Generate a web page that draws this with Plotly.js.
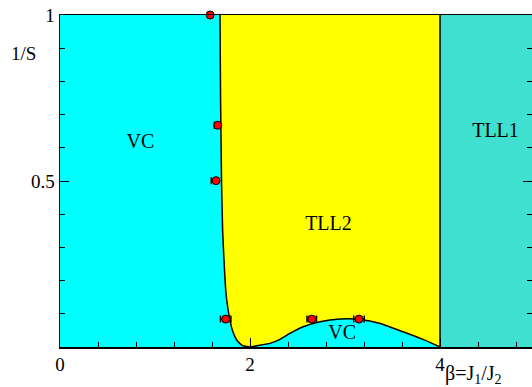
<!DOCTYPE html>
<html>
<head>
<meta charset="utf-8">
<script src="https://cdn.plot.ly/plotly-3.0.1.min.js"></script>
<style>
  html, body { margin: 0; padding: 0; background: #fff; }
  #chart { width: 532px; height: 387px; }
</style>
</head>
<body>
<div id="chart"></div>
<script>
// phase boundary, VC / TLL2 (steep left branch)
var leftBoundX = [1.684, 1.69, 1.70, 1.712, 1.726, 1.747, 1.765, 1.782, 1.814, 1.86, 1.912, 1.95, 1.98, 2.0];
var leftBoundY = [1.0, 0.75, 0.5, 0.35, 0.262, 0.162, 0.12, 0.091, 0.051, 0.021, 0.006, 0.002, 0.0005, 0.0];
// dome between beta = 2 and 4
var domeX = [2.0, 2.1, 2.21, 2.316, 2.42, 2.56, 2.737, 2.947, 3.158, 3.37, 3.61, 3.82, 4.0];
var domeY = [0.0, 0.005, 0.011, 0.023, 0.041, 0.061, 0.076, 0.084, 0.083, 0.071, 0.046, 0.023, 0.0];
// TLL2 / TLL1 border
var borderX = [4.0, 4.0];
var borderY = [0.0, 1.0];
// TLL1 region
var tll1X = [4.0, 5.0, 5.0, 4.0];
var tll1Y = [0.0, 0.0, 1.0, 1.0];

// numerical points with horizontal error bars
var ptX = [1.58, 1.66, 1.642, 1.744, 2.65, 3.147];
var ptY = [1.0, 0.668, 0.501, 0.084, 0.084, 0.084];
var errPlus = [0.0, 0.0, 0.0, 0.055, 0.05, 0.055];
var errMinus = [0.0, 0.035, 0.05, 0.055, 0.05, 0.055];

var labels = ['VC', 'TLL2', 'VC', 'TLL1'];
var labelX = [0.847, 2.826, 2.97, 4.584];
var labelY = [0.613, 0.367, 0.04, 0.648];

var serif = 'Liberation Serif, Times New Roman, serif';

var tll2X = leftBoundX.concat(domeX.slice(1), [4.0, leftBoundX[0]]);
var tll2Y = leftBoundY.concat(domeY.slice(1), [1.0, leftBoundY[0]]);

var traces = [
  {
    x: tll1X, y: tll1Y, mode: 'lines', fill: 'toself',
    fillcolor: '#40e0d0', line: { width: 0 }, hoverinfo: 'skip'
  },
  {
    x: tll2X, y: tll2Y, mode: 'lines', fill: 'toself',
    fillcolor: '#ffff00', line: { width: 0 }, hoverinfo: 'skip'
  },
  {
    x: leftBoundX, y: leftBoundY, mode: 'lines',
    line: { color: '#000', width: 1.5, shape: 'spline', smoothing: 0.5 }
  },
  {
    x: domeX, y: domeY, mode: 'lines',
    line: { color: '#000', width: 1.5, shape: 'spline', smoothing: 0.5 }
  },
  {
    x: borderX, y: borderY, mode: 'lines',
    line: { color: '#000', width: 1.5 }
  },
  {
    x: ptX, y: ptY, type: 'scatter', mode: 'markers', cliponaxis: false,
    marker: { color: '#ff0000', size: 8, line: { color: '#000', width: 1 } },
    error_x: { visible: true, type: 'data', symmetric: false, array: errPlus, arrayminus: errMinus,
               color: '#000', thickness: 1.5, width: 3.5 }
  },
  {
    x: labelX, y: labelY, mode: 'text', text: labels,
    textfont: { family: serif, size: 20, color: '#000' }
  }
];

var layout = {
  width: 532,
  height: 387,
  showlegend: false,
  paper_bgcolor: '#fff',
  plot_bgcolor: '#00ffff',
  margin: { l: 60, r: 0, t: 15, b: 40 },
  font: { family: serif, size: 18, color: '#000' },
  xaxis: {
    range: [0, 4.968],
    tickvals: [0, 2, 4],
    ticktext: ['0', '2', '4'],
    ticks: 'inside', ticklen: 9, tickwidth: 1, tickcolor: '#000',
    minor: { dtick: 0.4, tick0: 0, ticks: 'inside', ticklen: 5, tickcolor: '#000' },
    showline: true, linecolor: '#000', linewidth: 1.5, mirror: true,
    showgrid: false, zeroline: false,
    tickfont: { family: serif, size: 19 }
  },
  yaxis: {
    range: [0, 1],
    tickvals: [0.5, 1],
    ticktext: ['0.5', '1'],
    ticks: 'inside', ticklen: 9, tickwidth: 1, tickcolor: '#000',
    minor: { dtick: 0.1, tick0: 0, ticks: 'inside', ticklen: 5, tickcolor: '#000' },
    showline: true, linecolor: '#000', linewidth: 1.5, mirror: 'ticks',
    showgrid: false, zeroline: false,
    tickfont: { family: serif, size: 19 }
  },
  annotations: [
    {
      text: '1/S', xref: 'paper', yref: 'paper', x: -0.108, y: 0.885,
      xanchor: 'left', yanchor: 'middle', showarrow: false,
      font: { family: serif, size: 19 }
    },
    {
      text: 'β=J<sub>1</sub>/J<sub>2</sub>', xref: 'paper', yref: 'paper',
      x: 0.812, y: -0.04, xanchor: 'left', yanchor: 'top', showarrow: false,
      font: { family: serif, size: 20 }
    }
  ]
};

Plotly.newPlot('chart', traces, layout, { displayModeBar: false, staticPlot: true });
</script>
</body>
</html>
